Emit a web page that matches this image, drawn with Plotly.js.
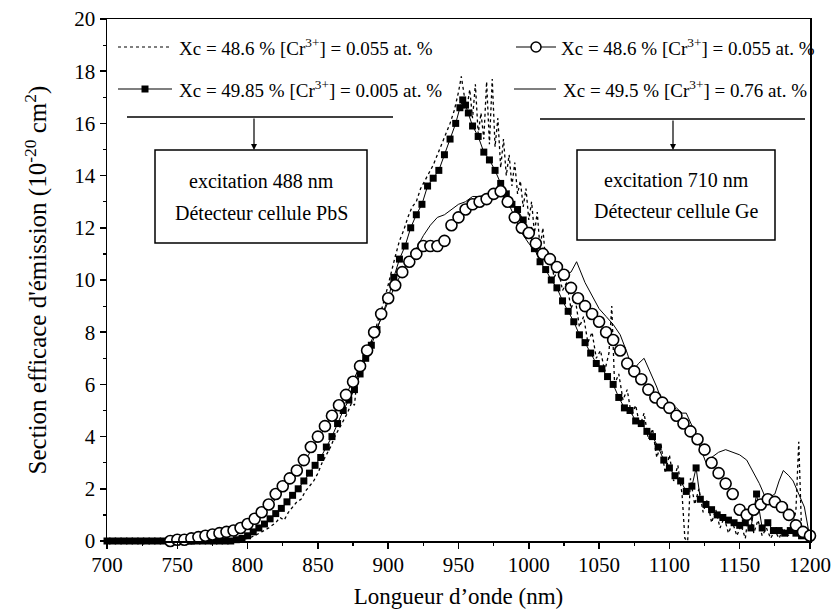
<!DOCTYPE html>
<html>
<head>
<meta charset="utf-8">
<script src="https://cdn.plot.ly/plotly-3.0.1.min.js"></script>
<style>html,body{margin:0;padding:0;background:#fff}#chart{width:837px;height:616px}</style>
</head>
<body>
<div id="chart"></div>
<script>
// ---- Data ----
// Series 1: dotted line, Xc = 48.6 %, [Cr3+] = 0.055 at.% (excitation 488 nm, PbS)
const dotX = [700,750,790,800,805,810,815,820,823,826,829,832,835,838,841,844,847,850,853,856,859,862,865,868,871,874,876,878,881,884,887,890,893,896,899,902,905,908,911,914,917,920,923,926,929,932,935,938,941,944,947,950,952,954,956,958,960,962,964,966,968,970,972,974,976,978,980,982,984,986,988,990,992,994,996,998,1000,1002,1004,1006,1008,1010,1012,1015,1018,1021,1024,1027,1030,1033,1036,1039,1042,1045,1048,1051,1054,1057,1059,1061,1064,1067,1070,1073,1076,1079,1082,1085,1088,1091,1094,1097,1100,1103,1106,1109,1111,1113,1115,1118,1121,1124,1127,1130,1133,1136,1139,1142,1145,1148,1151,1154,1157,1160,1163,1166,1169,1172,1175,1178,1181,1184,1187,1190,1192,1194,1196,1198,1200];
const dotY = [0,0,0,0.1,0.2,0.35,0.5,0.7,0.9,0.8,1.1,1.3,1.5,1.6,1.9,2.1,2.3,2.6,3.0,3.3,3.6,4.0,4.3,4.6,4.9,5.3,5.2,6.3,6.6,7.1,7.5,7.9,8.5,9.0,9.6,10.3,10.9,11.5,11.9,12.4,12.8,13.0,13.5,13.8,14.1,14.4,14.8,15.2,15.6,16.0,16.5,17.2,17.8,17.1,16.6,17.3,16.2,17.5,15.6,16.4,15.4,17.6,15.2,17.7,15.1,16.2,14.3,15.4,14.0,14.8,13.6,14.5,13.3,13.8,12.8,13.5,12.3,13.0,11.8,12.6,11.2,12.0,10.7,11.0,10.1,10.4,9.6,9.9,8.9,9.3,8.2,8.6,7.6,8.0,7.0,7.3,6.5,7.2,9.0,6.0,6.4,5.4,5.8,4.8,5.2,4.4,4.9,3.9,4.3,3.2,3.7,2.6,3.3,2.3,2.9,1.8,0.1,0.0,2.4,1.4,2.0,1.1,1.6,0.7,1.2,0.5,0.9,0.3,0.7,0.2,0.6,0.1,1.4,0.3,0.8,0.2,0.5,0.1,0.4,0.1,0.5,0.2,0.3,1.2,3.8,0.4,0.2,0.5,0.1];

// Series 2: filled squares, Xc = 49.85 %, [Cr3+] = 0.005 at.%
const sqX = [700,704,708,712,716,720,724,728,732,736,740,744,748,752,756,760,764,768,772,776,780,784,788,792,796,800,804,808,812,816,820,824,828,832,836,840,844,848,852,856,860,864,868,872,876,880,884,888,892,896,900,904,908,912,916,920,924,928,932,936,940,944,948,951,953,955,957,960,964,968,972,976,980,984,988,992,996,1000,1004,1008,1012,1016,1020,1024,1028,1032,1036,1040,1044,1048,1052,1056,1060,1064,1068,1072,1076,1080,1084,1088,1092,1096,1100,1104,1108,1112,1116,1119,1122,1126,1130,1134,1138,1142,1146,1150,1154,1158,1162,1166,1170,1174,1178,1182,1186,1190,1194,1198,1200];
const sqY = [0,0,0,0,0,0,0,0,0,0,0,0,0,0,0,0,0,0,0,0,0,0,0,0.05,0.1,0.2,0.35,0.5,0.65,0.85,1.05,1.25,1.5,1.75,2.0,2.3,2.6,2.9,3.2,3.6,4.0,4.5,5.0,5.4,5.8,6.4,7.0,7.5,8.1,8.7,9.3,10.1,10.8,11.3,12.0,12.5,12.9,13.6,13.9,14.2,14.8,15.4,16.0,16.6,16.9,16.7,16.4,15.9,15.5,14.9,14.6,14.2,13.7,13.3,12.9,12.7,12.3,11.9,11.2,10.7,10.4,10.0,9.7,9.2,8.8,8.4,7.9,7.6,7.2,6.8,6.6,6.3,6.0,5.5,5.1,5.0,4.6,4.5,4.2,4.0,3.6,3.1,2.8,2.5,2.3,1.9,2.1,2.8,1.6,1.4,1.2,1.0,0.9,0.8,0.7,0.6,0.7,0.5,1.8,0.5,0.7,0.4,0.4,0.3,0.4,0.3,0.2,0.3,0.2];

// Series 3: open circles, Xc = 48.6 %, [Cr3+] = 0.055 at.% (excitation 710 nm, Ge)
const ciX = [745,750,755,760,765,770,775,780,785,790,795,800,805,810,815,820,825,830,835,840,845,850,855,860,865,870,875,880,885,890,895,900,905,910,915,920,925,930,935,940,945,950,955,960,965,970,975,980,985,990,995,1000,1005,1010,1015,1020,1025,1030,1035,1040,1045,1050,1055,1060,1065,1070,1075,1080,1085,1090,1095,1100,1105,1110,1115,1120,1125,1130,1135,1140,1145,1150,1155,1160,1165,1170,1175,1180,1185,1190,1195,1200];
const ciY = [0,0.05,0.05,0.1,0.15,0.2,0.25,0.3,0.35,0.4,0.5,0.65,0.85,1.1,1.4,1.8,2.1,2.4,2.7,3.1,3.6,4.0,4.4,4.8,5.2,5.6,6.1,6.7,7.3,8.0,8.7,9.3,9.8,10.3,10.7,11.0,11.3,11.3,11.3,11.5,12.1,12.4,12.7,12.9,13.0,13.1,13.3,13.4,13.0,12.4,12.0,11.8,11.4,11.0,10.8,10.5,10.2,9.7,9.3,9.0,8.7,8.4,8.0,7.7,7.3,6.8,6.5,6.2,5.8,5.5,5.3,5.1,4.8,4.5,4.2,3.9,3.5,3.0,2.6,2.2,1.8,1.2,1.0,1.2,1.4,1.6,1.5,1.3,1.0,0.6,0.35,0.2];

// Series 4: solid line, Xc = 49.5 %, [Cr3+] = 0.76 at.%
const lnX = [700,740,760,780,790,800,810,820,830,840,850,860,870,880,890,900,905,910,915,920,925,930,935,940,945,950,955,960,965,970,975,980,985,990,995,1000,1005,1010,1015,1020,1025,1030,1034,1040,1045,1050,1055,1060,1065,1070,1074,1078,1082,1087,1091,1095,1098,1102,1105,1109,1112,1117,1122,1126,1130,1135,1140,1145,1150,1155,1160,1164,1168,1172,1175,1178,1181,1185,1188,1192,1196,1199];
const lnY = [0,0,0.05,0.25,0.35,0.6,1.0,1.6,2.3,3.0,3.9,4.8,5.6,6.7,7.9,9.2,9.8,10.3,10.8,11.2,11.7,12.1,12.4,12.5,12.7,12.9,13.0,13.2,13.2,13.3,13.4,13.3,13.0,12.4,11.8,11.4,11.1,10.9,10.6,10.4,10.2,10.3,10.7,9.9,9.4,8.9,8.6,8.3,7.9,7.2,6.5,6.8,7.0,6.4,5.9,5.3,4.9,5.0,5.1,4.9,4.9,4.3,3.6,3.0,3.2,3.4,3.5,3.4,3.3,3.1,2.6,2.2,1.7,1.7,1.8,2.3,2.7,2.5,2.3,1.8,1.3,0.4];

// Legend / label texts
const legendLeft = ["Xc = 48.6 % [Cr<sup>3+</sup>] = 0.055 at. %", "Xc = 49.85 % [Cr<sup>3+</sup>] = 0.005 at. %"];
const legendRight = ["Xc = 48.6 % [Cr<sup>3+</sup>] = 0.055 at. %", "Xc = 49.5 % [Cr<sup>3+</sup>] = 0.76 at. %"];
const boxLeft = ["excitation 488 nm", "Détecteur cellule PbS"];
const boxRight = ["excitation 710 nm", "Détecteur cellule Ge"];
const xTitle = "Longueur d’onde (nm)";
const yTitle = "Section efficace d'émission (10<sup>-20</sup> cm<sup>2</sup>)";

const FONT = "Liberation Serif";

const traces = [
  {x: dotX, y: dotY, type: 'scatter', mode: 'lines', line: {color: '#000', width: 1.3, dash: 'dot'}, showlegend: false},
  {x: sqX, y: sqY, type: 'scatter', mode: 'lines+markers', line: {color: '#000', width: 1}, marker: {symbol: 'square', size: 7, color: '#000'}, cliponaxis: false, showlegend: false},
  {x: lnX, y: lnY, type: 'scatter', mode: 'lines', line: {color: '#000', width: 1}, showlegend: false},
  {x: ciX, y: ciY, type: 'scatter', mode: 'markers', marker: {symbol: 'circle', size: 11, color: '#fff', line: {color: '#000', width: 1.6}}, cliponaxis: false, showlegend: false}
];

// pixel helpers for decorations (plot area: px 107..810, py 19..541)
const L = 107, R = 810, T = 19, B = 541;
const PX = px => 700 + (px - L) * 500 / (R - L);
const PY = py => (B - py) * 20 / (B - T);

const shapes = [];
const annotations = [];
function legRow(y, x0, x1, dash, marker, text, tx) {
  shapes.push({type: 'line', xref: 'x', yref: 'y', x0: PX(x0), x1: PX(x1), y0: PY(y), y1: PY(y), line: {color: '#000', width: 1.2, dash: dash}});
  if (marker === 'square') {
    const cx = (x0 + x1) / 2;
    shapes.push({type: 'rect', xref: 'x', yref: 'y', x0: PX(cx - 3.5), x1: PX(cx + 3.5), y0: PY(y + 3.5), y1: PY(y - 3.5), fillcolor: '#000', line: {color: '#000', width: 0}});
  } else if (marker === 'circle') {
    const cx = (x0 + x1) / 2;
    shapes.push({type: 'circle', xref: 'x', yref: 'y', x0: PX(cx - 5), x1: PX(cx + 5), y0: PY(y + 5), y1: PY(y - 5), fillcolor: '#fff', line: {color: '#000', width: 1.5}});
  }
  annotations.push({xref: 'x', yref: 'y', x: PX(tx), y: PY(y), text: text, showarrow: false, xanchor: 'left', yanchor: 'middle', font: {family: FONT, size: 19, color: '#000'}});
}
// left legend
legRow(47, 118, 172, 'dot', null, legendLeft[0], 177);
legRow(89, 118, 172, 'solid', 'square', legendLeft[1], 177);
// right legend
legRow(47, 516, 556, 'solid', 'circle', legendRight[0], 559);
legRow(89, 514, 556, 'solid', null, legendRight[1], 561);

function block(lineY, lx0, lx1, arrowX, bx0, bx1, by0, by1, texts) {
  shapes.push({type: 'line', xref: 'x', yref: 'y', x0: PX(lx0), x1: PX(lx1), y0: PY(lineY), y1: PY(lineY), line: {color: '#000', width: 1.5}});
  annotations.push({xref: 'x', yref: 'y', axref: 'x', ayref: 'y', x: PX(arrowX), y: PY(by0), ax: PX(arrowX), ay: PY(lineY), text: '', showarrow: true, arrowhead: 2, arrowsize: 1, arrowwidth: 1.2, arrowcolor: '#000'});
  shapes.push({type: 'rect', xref: 'x', yref: 'y', x0: PX(bx0), x1: PX(bx1), y0: PY(by0), y1: PY(by1), fillcolor: '#fff', line: {color: '#000', width: 1.5}});
  const cx = (bx0 + bx1) / 2;
  annotations.push({xref: 'x', yref: 'y', x: PX(cx), y: PY(by0 + (by1 - by0) * 0.33), text: texts[0], showarrow: false, xanchor: 'center', yanchor: 'middle', font: {family: FONT, size: 20, color: '#000'}});
  annotations.push({xref: 'x', yref: 'y', x: PX(cx), y: PY(by0 + (by1 - by0) * 0.68), text: texts[1], showarrow: false, xanchor: 'center', yanchor: 'middle', font: {family: FONT, size: 20, color: '#000'}});
}
block(117, 127, 393, 254, 155, 367, 150, 243, boxLeft);
block(119, 540, 805, 673, 577, 775, 150, 240, boxRight);

const axisCommon = {
  showline: true, linecolor: '#000', linewidth: 1.5, mirror: true,
  ticks: 'outside', ticklen: 6, tickwidth: 1.5, tickcolor: '#000',
  showgrid: false, zeroline: false,
  tickfont: {family: FONT, size: 21, color: '#000'}
};

const layout = {
  width: 837, height: 616,
  margin: {l: L, r: 837 - R, t: T, b: 616 - B},
  paper_bgcolor: '#fff', plot_bgcolor: '#fff',
  font: {family: FONT, color: '#000'},
  showlegend: false,
  xaxis: Object.assign({}, axisCommon, {
    range: [700, 1200], tick0: 700, dtick: 50,
    ticklabelstandoff: -2,
    minor: {dtick: 25, ticks: 'outside', ticklen: 3, tickwidth: 1.2, tickcolor: '#000'},
    title: {text: xTitle, font: {family: FONT, size: 23, color: '#000'}, standoff: 12}
  }),
  yaxis: Object.assign({}, axisCommon, {
    range: [0, 20], tick0: 0, dtick: 2,
    minor: {dtick: 1, ticks: 'outside', ticklen: 3, tickwidth: 1.2, tickcolor: '#000'},
    title: {text: yTitle, font: {family: FONT, size: 25, color: '#000'}, standoff: 20}
  }),
  shapes: shapes,
  annotations: annotations
};

Plotly.newPlot('chart', traces, layout, {displayModeBar: false, staticPlot: true});
</script>
</body>
</html>
